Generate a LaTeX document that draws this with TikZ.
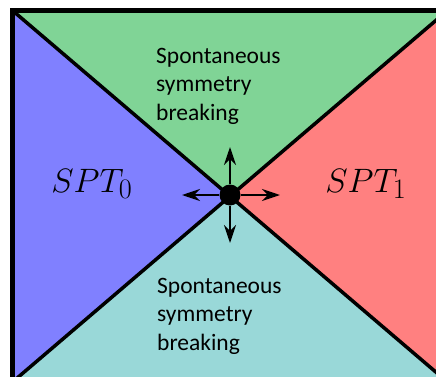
\documentclass[tikz,border=0pt]{standalone}
\usepackage{fontspec}
\usepackage{xcolor}
\usepackage{tikz}
\usetikzlibrary{positioning}
\usetikzlibrary{arrows.meta}

\newfontfamily\calfont{Carlito}

\definecolor{sptzero}{RGB}{128,128,255}
\definecolor{sptone}{RGB}{255,128,128}
\definecolor{ssbtop}{RGB}{128,212,150}
\definecolor{ssbbot}{RGB}{153,216,216}

\tikzset{
  ssb/.style={anchor=base west, inner sep=0, align=left,
    font=\calfont\fontsize{23.5}{28.5}\selectfont},
  spt/.style={anchor=base west, inner sep=0, scale=1.36,
    font=\fontsize{24.88}{30}\selectfont},
  flow/.style={-{Stealth[length=18pt,width=12pt]}, line width=2}
}

\begin{document}
\begin{tikzpicture}[x=1pt, y=1pt]
  \useasboundingbox (0,0) rectangle (436,376);
  \clip (0,0) rectangle (436,376);
  % corners and crossing point %
  \coordinate (tl) at (12.5,365.5);
  \coordinate (tr) at (447.5,365.5);
  \coordinate (br) at (447.5,-6);
  \coordinate (bl) at (12.5,-6);
  \coordinate (o) at (230,181);
  % phases %
  \fill[sptzero] (tl) -- (o) -- (bl) -- cycle;
  \fill[ssbtop] (tl) -- (tr) -- (o) -- cycle;
  \fill[sptone] (tr) -- (br) -- (o) -- cycle;
  \fill[ssbbot] (bl) -- (o) -- (br) -- cycle;
  % boundaries %
  \draw[line width=3.5] (tl) -- (br);
  \draw[line width=3.5] (tr) -- (bl);
  \draw[line width=5] (tl) -- (tr) -- (br) -- (bl) -- cycle;
  % labels %
  \node[ssb] (top) at (156,256) {Spontaneous\\symmetry\\breaking};
  \node[ssb] (bot) at (157,26) {Spontaneous\\symmetry\\breaking};
  \node[spt] (s0) at (51,184) {$SPT_0$};
  \node[spt] (s1) at (325,184) {$SPT_1$};
  % critical point %
  \node[circle, fill=black, minimum size=21, inner sep=0] (qcp) at (o) {};
  \coordinate (up) at (230,229);
  \coordinate (down) at (230,133);
  \coordinate (left) at (182,181);
  \coordinate (right) at (280,181);
  \draw[flow] (qcp) -- (up);
  \draw[flow] (qcp) -- (down);
  \draw[flow] (qcp) -- (left);
  \draw[flow] (qcp) -- (right);
\end{tikzpicture}
\end{document}
